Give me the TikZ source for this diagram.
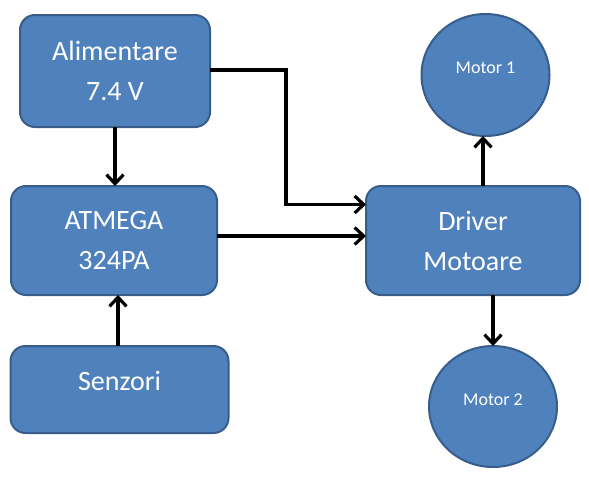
\documentclass[tikz,border=0pt]{standalone}
\usepackage{fontspec}
\setmainfont{Carlito}
\usepackage{tikz}
\usetikzlibrary{positioning}
\usetikzlibrary{shapes.geometric}
\usetikzlibrary{arrows.meta}

\definecolor{boxfill}{HTML}{4F81BD}
\definecolor{boxline}{HTML}{385D8A}

\begin{document}
\begin{tikzpicture}[x=1pt, y=1pt,
                          blocknode/.style={rectangle, rounded corners=15pt, draw=boxline, fill=boxfill, line width=2pt, outer sep=0pt, text=white, align=center, font=\fontsize{28}{40}\selectfont},
                          motornode/.style={ellipse, draw=boxline, fill=boxfill, line width=2pt, outer sep=0pt, text=white, minimum width=128pt, font=\fontsize{18}{22}\selectfont},
                          arrow/.style={line width=3.2pt, -{Straight Barb[length=9pt,width=17pt]}},
                      ]
                      \useasboundingbox (0,0) rectangle (589,-485);
                      % Nodes
                      \node[blocknode, minimum width=190pt, minimum height=112pt]        (alim)    at (115,-71)        {Alimentare\\7.4 V};
                      \node[blocknode, minimum width=206pt, minimum height=109pt]        (atmega)  [below=59pt of alim, xshift=-1pt]    {ATMEGA\\324PA};
                      \node[blocknode, minimum width=218pt, minimum height=87pt, text depth=18pt]       (senzori) [below=51pt of atmega, xshift=5.5pt]    {Senzori};
                      \node[blocknode, minimum width=214pt, minimum height=109pt]        (driver)  [right=149pt of atmega]    {Driver\\Motoare};

                      \node[motornode, minimum height=122pt, text depth=14pt]        (motor_1)  [above=50pt of driver, xshift=12.5pt]    {Motor 1};
                      \node[motornode, minimum height=121pt, text depth=13pt]        (motor_2)  [below=51pt of driver, xshift=20pt]    {Motor 2};

                      %Lines
                      \draw[arrow] (alim.south) -- (alim.south |- atmega.north);
                      \draw[arrow] ([yshift=1pt]alim.east) -- ++(76,0) |- ([yshift=36pt]driver.west);
                      \draw[arrow] ([yshift=4.5pt]atmega.east) -- ([yshift=4.5pt]driver.west);
                      \draw[arrow] ([xshift=-1.5pt]senzori.north) -- ([xshift=-1.5pt]senzori.north |- atmega.south);
                      \draw[arrow] ([xshift=-2.5pt]motor_1.south |- driver.north) -- ([xshift=-2.5pt]motor_1.south);
                      \draw[arrow] (motor_2.north |- driver.south) -- (motor_2.north);
                  \end{tikzpicture}
\end{document}
